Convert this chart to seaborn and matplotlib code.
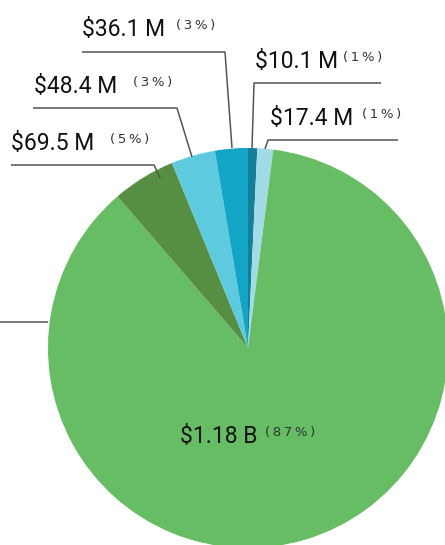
import matplotlib
matplotlib.use("Agg")
import matplotlib.pyplot as plt
import seaborn as sns

# data, clockwise from 12 o'clock
amounts = [10.1, 17.4, 1180.0, 69.5, 48.4, 36.1]
amount_labels = ["$10.1 M", "$17.4 M", "$1.18 B", "$69.5 M", "$48.4 M", "$36.1 M"]
pct_labels = ["(1%)", "(1%)", "(87%)", "(5%)", "(3%)", "(3%)"]
colors = ["#137f98", "#a2dbe8", "#66bd63", "#568f42", "#5ecadf", "#12a5c5"]

sns.set_theme(style="white")
plt.rcParams['font.family'] = ['Roboto', 'DejaVu Sans']

W, H = 445, 545
fig = plt.figure(figsize=(W / 100, H / 100), dpi=100)
ax = fig.add_axes([0, 0, 1, 1])

cx, cy, r = 248, H - 348, 200
ax.pie(amounts, colors=colors, startangle=90, counterclock=False,
       center=(cx, cy), radius=r, wedgeprops=dict(linewidth=0))
ax.set_xlim(0, W)
ax.set_ylim(0, H)
ax.set_aspect('equal')
ax.axis('off')

# leader lines (pixel coords, y down)
leaders = [
    [(11, 165), (154, 165), (160, 178)],
    [(33, 108), (177, 108), (192, 157)],
    [(82, 52), (225, 52), (232, 148)],
    [(381, 83), (254, 83), (252, 148)],
    [(398, 140), (268, 140), (265, 149)],
    [(0, 322), (48, 322)],
]
for pts in leaders:
    xs = [p[0] for p in pts]
    ys = [H - p[1] for p in pts]
    ax.plot(xs, ys, color="#555555", lw=1.1, solid_capstyle='butt')

# label positions: (x of amount, baseline y, x of pct) in pixels
label_pos = {
    "$10.1 M": (255, 68, 343),
    "$17.4 M": (270, 125, 362),
    "$1.18 B": (180, 443, 265),
    "$69.5 M": (11, 150, 110),
    "$48.4 M": (34, 93, 133),
    "$36.1 M": (82, 36, 176),
}
for amt, pct in zip(amount_labels, pct_labels):
    x, y, px = label_pos[amt]
    ax.text(x, H - y, amt, fontsize=16.5, color="#111111",
            ha='left', va='baseline')
    spaced = "\u2009".join(pct)
    ax.text(px, H - y + 7, spaced, fontsize=9.5, color="#333333",
            family=['DejaVu Sans'], ha='left', va='baseline')

fig.savefig("out.png", dpi=100)
